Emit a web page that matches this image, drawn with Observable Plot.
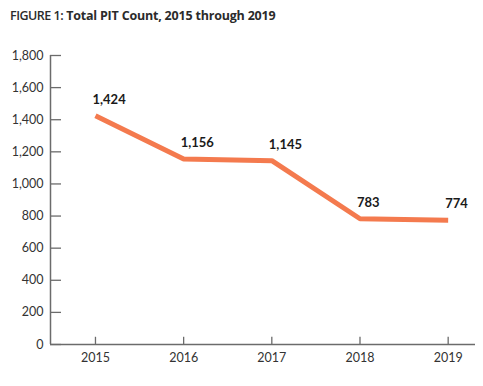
<!DOCTYPE html>
<html><head><meta charset="utf-8">
<script src="https://cdn.jsdelivr.net/npm/d3@7"></script>
<script src="https://cdn.jsdelivr.net/npm/@observablehq/plot@0.6"></script>
<style>
body{margin:0;background:#fff;font-family:Lato,"Open Sans",sans-serif;}
#title{height:30px;padding:7px 0 0 10px;box-sizing:border-box;font-size:12.5px;font-weight:700;color:#2b2b2b;font-family:"Open Sans",Lato,sans-serif;letter-spacing:-0.2px}
#title span{font-weight:600;letter-spacing:-0.5px}
</style></head>
<body>
<div id="title"><span>FIGURE 1:</span> Total PIT Count, 2015 through 2019</div>
<div id="chart"></div>
<script>
const years = [2015, 2016, 2017, 2018, 2019];
const counts = [1424, 1156, 1145, 783, 774];
const labels = ["1,424", "1,156", "1,145", "783", "774"];
const yTicks = [0, 200, 400, 600, 800, 1000, 1200, 1400, 1600, 1800];

const data = years.map((y, i) => ({year: y, count: counts[i], label: labels[i]}));
const xMin = 2014.49, xMax = 2019.31;
const axisColor = "#6b6b6b";

const chart = Plot.plot({
  width: 483,
  height: 356,
  marginTop: 25,
  marginBottom: 42,
  marginLeft: 50,
  marginRight: 8,
  style: {fontFamily: "Lato, 'Open Sans', sans-serif", fontSize: "12px", color: "#333"},
  x: {domain: [xMin, xMax], axis: null},
  y: {domain: [0, 1800], axis: null},
  marks: [
    Plot.axisY(yTicks, {tickSize: 0, tickPadding: 7, tickFormat: d3.format(","), fontSize: 12.5, fill: "#333", label: null}),
    Plot.axisX(years, {tickSize: 0, tickPadding: 9, tickFormat: d => String(d), fontSize: 12.5, fill: "#333", label: null}),
    Plot.ruleY(yTicks, {y: d => d, x1: xMin, x2: xMin + 0.125, stroke: axisColor, strokeWidth: 1.3}),
    Plot.ruleX(years, {x: d => d, y1: 0, y2: 45, stroke: axisColor, strokeWidth: 1.3}),
    Plot.ruleX([xMin], {y1: 0, y2: 1800, stroke: axisColor, strokeWidth: 1.5}),
    Plot.ruleY([0], {x1: xMin, x2: xMax, stroke: axisColor, strokeWidth: 1.5}),
    Plot.line(data, {x: "year", y: "count", stroke: "#f47a4e", strokeWidth: 5, strokeLinejoin: "miter", strokeLinecap: "butt"}),
    Plot.text(data, {x: "year", y: "count", text: "label", textAnchor: "start", dx: -3, dy: -16, fontWeight: 700, fontSize: 13, fill: "#1a1a1a"})
  ]
});
document.getElementById("chart").appendChild(chart);
</script>
</body></html>
